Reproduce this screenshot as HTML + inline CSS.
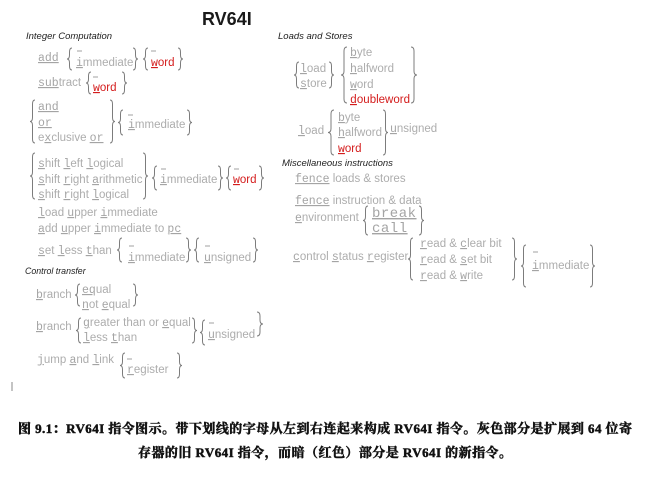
<!DOCTYPE html>
<html><head><meta charset="utf-8">
<style>
html,body{margin:0;padding:0;background:#fff;}
svg{display:block;}
text{font-family:"Liberation Sans",Arial,sans-serif;font-size:11.5px;fill:#adadad;white-space:pre;}
.m{font-family:"Liberation Mono","Courier New",monospace;text-decoration:underline;fill:#a4a4a4;}
.r{fill:#d41c1c;}
.mr{font-family:"Liberation Mono","Courier New",monospace;text-decoration:underline;fill:#d41c1c;}
.h{font-style:italic;font-size:9.5px;fill:#222;}
.big{font-family:"Liberation Mono","Courier New",monospace;font-size:14px;letter-spacing:0.5px;text-decoration:underline;fill:#a4a4a4;}
.br{fill:none;stroke:#7c7c7c;stroke-width:1;}
.ds{stroke:#a0a0a0;stroke-width:1;}
.cap{font-family:"Liberation Serif","Noto Serif CJK SC",serif;font-weight:bold;font-size:13px;fill:#111;stroke:#111;stroke-width:0.5;}
</style></head>
<body>
<svg width="650" height="477" viewBox="0 0 650 477" xmlns="http://www.w3.org/2000/svg">
<!-- title -->
<text x="202" y="25" style="font-weight:bold;font-size:18px;fill:#1a1a1a">RV64I</text>

<!-- headers -->
<text class="h" x="26" y="39">Integer Computation</text>
<text class="h" x="278" y="39">Loads and Stores</text>
<text class="h" x="282" y="166">Miscellaneous instructions</text>
<text class="h" x="25" y="274" style="font-size:8.8px">Control transfer</text>

<!-- braces -->
<g class="br">
<path d="M72 48 Q69.5 48 69.5 52 L69.5 55 Q69.5 59 67 59 Q69.5 59 69.5 63 L69.5 66 Q69.5 70 72 70"/>
<path d="M133 48 Q135.5 48 135.5 52 L135.5 55 Q135.5 59 138 59 Q135.5 59 135.5 63 L135.5 66 Q135.5 70 133 70"/>
<path d="M148 48 Q145.5 48 145.5 52 L145.5 55 Q145.5 59 143 59 Q145.5 59 145.5 63 L145.5 66 Q145.5 70 148 70"/>
<path d="M178 48 Q180.5 48 180.5 52 L180.5 55 Q180.5 59 183 59 Q180.5 59 180.5 63 L180.5 66 Q180.5 70 178 70"/>
<path d="M91 72 Q88.5 72 88.5 76 L88.5 79 Q88.5 83 86 83 Q88.5 83 88.5 87 L88.5 90 Q88.5 94 91 94"/>
<path d="M122 72 Q124.5 72 124.5 76 L124.5 79 Q124.5 83 127 83 Q124.5 83 124.5 87 L124.5 90 Q124.5 94 122 94"/>
<path d="M35 100 Q32.5 100 32.5 104 L32.5 117.5 Q32.5 121.5 30 121.5 Q32.5 121.5 32.5 125.5 L32.5 139 Q32.5 143 35 143"/>
<path d="M110 100 Q112.5 100 112.5 104 L112.5 117.5 Q112.5 121.5 115 121.5 Q112.5 121.5 112.5 125.5 L112.5 139 Q112.5 143 110 143"/>
<path d="M123 110 Q120.5 110 120.5 114 L120.5 118.5 Q120.5 122.5 118 122.5 Q120.5 122.5 120.5 126.5 L120.5 131 Q120.5 135 123 135"/>
<path d="M187 110 Q189.5 110 189.5 114 L189.5 118.5 Q189.5 122.5 192 122.5 Q189.5 122.5 189.5 126.5 L189.5 131 Q189.5 135 187 135"/>
<path d="M35 153 Q32.5 153 32.5 157 L32.5 172 Q32.5 176 30 176 Q32.5 176 32.5 180 L32.5 195 Q32.5 199 35 199"/>
<path d="M143 153 Q145.5 153 145.5 157 L145.5 172 Q145.5 176 148 176 Q145.5 176 145.5 180 L145.5 195 Q145.5 199 143 199"/>
<path d="M157 166 Q154.5 166 154.5 170 L154.5 174 Q154.5 178 152 178 Q154.5 178 154.5 182 L154.5 186 Q154.5 190 157 190"/>
<path d="M218 166 Q220.5 166 220.5 170 L220.5 174 Q220.5 178 223 178 Q220.5 178 220.5 182 L220.5 186 Q220.5 190 218 190"/>
<path d="M231 166 Q228.5 166 228.5 170 L228.5 174 Q228.5 178 226 178 Q228.5 178 228.5 182 L228.5 186 Q228.5 190 231 190"/>
<path d="M259 166 Q261.5 166 261.5 170 L261.5 174 Q261.5 178 264 178 Q261.5 178 261.5 182 L261.5 186 Q261.5 190 259 190"/>
<path d="M122 238 Q119.5 238 119.5 242 L119.5 246 Q119.5 250 117 250 Q119.5 250 119.5 254 L119.5 258 Q119.5 262 122 262"/>
<path d="M186 238 Q188.5 238 188.5 242 L188.5 246 Q188.5 250 191 250 Q188.5 250 188.5 254 L188.5 258 Q188.5 262 186 262"/>
<path d="M199 238 Q196.5 238 196.5 242 L196.5 246 Q196.5 250 194 250 Q196.5 250 196.5 254 L196.5 258 Q196.5 262 199 262"/>
<path d="M253 238 Q255.5 238 255.5 242 L255.5 246 Q255.5 250 258 250 Q255.5 250 255.5 254 L255.5 258 Q255.5 262 253 262"/>
<path d="M80 284 Q77.5 284 77.5 288 L77.5 291 Q77.5 295 75 295 Q77.5 295 77.5 299 L77.5 302 Q77.5 306 80 306"/>
<path d="M133 284 Q135.5 284 135.5 288 L135.5 291 Q135.5 295 138 295 Q135.5 295 135.5 299 L135.5 302 Q135.5 306 133 306"/>
<path d="M81 318 Q78.5 318 78.5 322 L78.5 326.5 Q78.5 330.5 76 330.5 Q78.5 330.5 78.5 334.5 L78.5 339 Q78.5 343 81 343"/>
<path d="M192 318 Q194.5 318 194.5 322 L194.5 326.5 Q194.5 330.5 197 330.5 Q194.5 330.5 194.5 334.5 L194.5 339 Q194.5 343 192 343"/>
<path d="M205 320 Q202.5 320 202.5 324 L202.5 328.5 Q202.5 332.5 200 332.5 Q202.5 332.5 202.5 336.5 L202.5 341 Q202.5 345 205 345"/>
<path d="M257 312 Q260 312 260 316 L260 320 Q260 324 263 324 Q260 324 260 328 L260 332 Q260 336 257 336"/>
<path d="M125 353 Q122.5 353 122.5 357 L122.5 361.5 Q122.5 365.5 120 365.5 Q122.5 365.5 122.5 369.5 L122.5 374 Q122.5 378 125 378"/>
<path d="M177 353 Q179.5 353 179.5 357 L179.5 361.5 Q179.5 365.5 182 365.5 Q179.5 365.5 179.5 369.5 L179.5 374 Q179.5 378 177 378"/>
<path d="M299 62 Q296.5 62 296.5 66 L296.5 71 Q296.5 75 294 75 Q296.5 75 296.5 79 L296.5 84 Q296.5 88 299 88"/>
<path d="M329 62 Q331.5 62 331.5 66 L331.5 71 Q331.5 75 334 75 Q331.5 75 331.5 79 L331.5 84 Q331.5 88 329 88"/>
<path d="M347 47 Q344 47 344 51 L344 71 Q344 75 341 75 Q344 75 344 79 L344 99 Q344 103 347 103"/>
<path d="M411 47 Q414 47 414 51 L414 71 Q414 75 417 75 Q414 75 414 79 L414 99 Q414 103 411 103"/>
<path d="M334 110 Q331 110 331 114 L331 128.5 Q331 132.5 328 132.5 Q331 132.5 331 136.5 L331 151 Q331 155 334 155"/>
<path d="M383 110 Q385.5 110 385.5 114 L385.5 128.5 Q385.5 132.5 388 132.5 Q385.5 132.5 385.5 136.5 L385.5 151 Q385.5 155 383 155"/>
<path d="M368 206 Q365.5 206 365.5 210 L365.5 216.5 Q365.5 220.5 363 220.5 Q365.5 220.5 365.5 224.5 L365.5 231 Q365.5 235 368 235"/>
<path d="M419 206 Q421.5 206 421.5 210 L421.5 216.5 Q421.5 220.5 424 220.5 Q421.5 220.5 421.5 224.5 L421.5 231 Q421.5 235 419 235"/>
<path d="M413 238 Q410.5 238 410.5 242 L410.5 255 Q410.5 259 408 259 Q410.5 259 410.5 263 L410.5 276 Q410.5 280 413 280"/>
<path d="M512 238 Q514.5 238 514.5 242 L514.5 255 Q514.5 259 517 259 Q514.5 259 514.5 263 L514.5 276 Q514.5 280 512 280"/>
<path d="M526 245 Q523.5 245 523.5 249 L523.5 262 Q523.5 266 521 266 Q523.5 266 523.5 270 L523.5 283 Q523.5 287 526 287"/>
<path d="M590 245 Q592.5 245 592.5 249 L592.5 262 Q592.5 266 595 266 Q592.5 266 592.5 270 L592.5 283 Q592.5 287 590 287"/>
</g>

<!-- dashes (empty options) -->
<g class="ds">
<line x1="77" y1="51" x2="82" y2="51"/>
<line x1="151" y1="51" x2="156" y2="51"/>
<line x1="93" y1="77" x2="98" y2="77"/>
<line x1="128" y1="115" x2="133" y2="115"/>
<line x1="161" y1="169" x2="166" y2="169"/>
<line x1="234" y1="169" x2="239" y2="169"/>
<line x1="129" y1="246" x2="134" y2="246"/>
<line x1="205" y1="246" x2="210" y2="246"/>
<line x1="209" y1="323" x2="214" y2="323"/>
<line x1="127" y1="359" x2="132" y2="359"/>
<line x1="533" y1="252" x2="538" y2="252"/>
</g>

<!-- Integer computation -->
<text x="38" y="61"><tspan class="m">add</tspan></text>
<text x="76" y="66"><tspan class="m">i</tspan>mmediate</text>
<text x="151" y="66" class="r"><tspan class="mr">w</tspan>ord</text>

<text x="38" y="86"><tspan class="m">sub</tspan>tract</text>
<text x="93" y="91" class="r"><tspan class="mr">w</tspan>ord</text>

<text x="38" y="110"><tspan class="m">and</tspan></text>
<text x="38" y="126"><tspan class="m">or</tspan></text>
<text x="38" y="141">e<tspan class="m">x</tspan>clusive <tspan class="m">or</tspan></text>
<text x="128" y="128"><tspan class="m">i</tspan>mmediate</text>

<text x="38" y="167"><tspan class="m">s</tspan>hift <tspan class="m">l</tspan>eft <tspan class="m">l</tspan>ogical</text>
<text x="38" y="183"><tspan class="m">s</tspan>hift <tspan class="m">r</tspan>ight <tspan class="m">a</tspan>rithmetic</text>
<text x="38" y="198"><tspan class="m">s</tspan>hift <tspan class="m">r</tspan>ight <tspan class="m">l</tspan>ogical</text>
<text x="160" y="183"><tspan class="m">i</tspan>mmediate</text>
<text x="233" y="183" class="r"><tspan class="mr">w</tspan>ord</text>

<text x="38" y="216"><tspan class="m">l</tspan>oad <tspan class="m">u</tspan>pper <tspan class="m">i</tspan>mmediate</text>
<text x="38" y="232"><tspan class="m">a</tspan>dd <tspan class="m">u</tspan>pper <tspan class="m">i</tspan>mmediate to <tspan class="m">pc</tspan></text>

<text x="38" y="254"><tspan class="m">s</tspan>et <tspan class="m">l</tspan>ess <tspan class="m">t</tspan>han</text>
<text x="128" y="261"><tspan class="m">i</tspan>mmediate</text>
<text x="204" y="261"><tspan class="m">u</tspan>nsigned</text>

<!-- Control transfer -->
<text x="36" y="298"><tspan class="m">b</tspan>ranch</text>
<text x="82" y="293"><tspan class="m">eq</tspan>ual</text>
<text x="82" y="308"><tspan class="m">n</tspan>ot <tspan class="m">e</tspan>qual</text>

<text x="36" y="330"><tspan class="m">b</tspan>ranch</text>
<text x="83" y="326"><tspan class="m">g</tspan>reater than or <tspan class="m">e</tspan>qual</text>
<text x="83" y="341"><tspan class="m">l</tspan>ess <tspan class="m">t</tspan>han</text>
<text x="208" y="338"><tspan class="m">u</tspan>nsigned</text>

<text x="37" y="363"><tspan class="m">j</tspan>ump <tspan class="m">a</tspan>nd <tspan class="m">l</tspan>ink</text>
<text x="127" y="373"><tspan class="m">r</tspan>egister</text>

<line x1="12" y1="382" x2="12" y2="391" stroke="#888" stroke-width="1"/>

<!-- Loads and stores -->
<text x="300" y="72"><tspan class="m">l</tspan>oad</text>
<text x="300" y="87"><tspan class="m">s</tspan>tore</text>
<text x="350" y="56"><tspan class="m">b</tspan>yte</text>
<text x="350" y="72"><tspan class="m">h</tspan>alfword</text>
<text x="350" y="88"><tspan class="m">w</tspan>ord</text>
<text x="350" y="103" class="r"><tspan class="mr">d</tspan>oubleword</text>

<text x="298" y="134"><tspan class="m">l</tspan>oad</text>
<text x="338" y="121"><tspan class="m">b</tspan>yte</text>
<text x="338" y="136"><tspan class="m">h</tspan>alfword</text>
<text x="338" y="152" class="r"><tspan class="mr">w</tspan>ord</text>
<text x="390" y="132"><tspan class="m">u</tspan>nsigned</text>

<!-- Misc -->
<text x="295" y="182"><tspan class="m">fence</tspan> loads &amp; stores</text>
<text x="295" y="204"><tspan class="m">fence</tspan> instruction &amp; data</text>
<text x="295" y="221"><tspan class="m">e</tspan>nvironment</text>
<text x="372" y="217"><tspan class="big">break</tspan></text>
<text x="372" y="232"><tspan class="big">call</tspan></text>

<text x="293" y="260"><tspan class="m">c</tspan>ontrol <tspan class="m">s</tspan>tatus <tspan class="m">r</tspan>egister</text>
<text x="420" y="247"><tspan class="m">r</tspan>ead &amp; <tspan class="m">c</tspan>lear bit</text>
<text x="420" y="263"><tspan class="m">r</tspan>ead &amp; <tspan class="m">s</tspan>et bit</text>
<text x="420" y="279"><tspan class="m">r</tspan>ead &amp; <tspan class="m">w</tspan>rite</text>
<text x="532" y="269"><tspan class="m">i</tspan>mmediate</text>

<!-- caption -->
<text class="cap" x="18" y="433" textLength="614" lengthAdjust="spacing">图 9.1：RV64I 指令图示。带下划线的字母从左到右连起来构成 RV64I 指令。灰色部分是扩展到 64 位寄</text>
<text class="cap" x="138" y="457" textLength="374" lengthAdjust="spacing">存器的旧 RV64I 指令，而暗（红色）部分是 RV64I 的新指令。</text>
</svg>
</body></html>
